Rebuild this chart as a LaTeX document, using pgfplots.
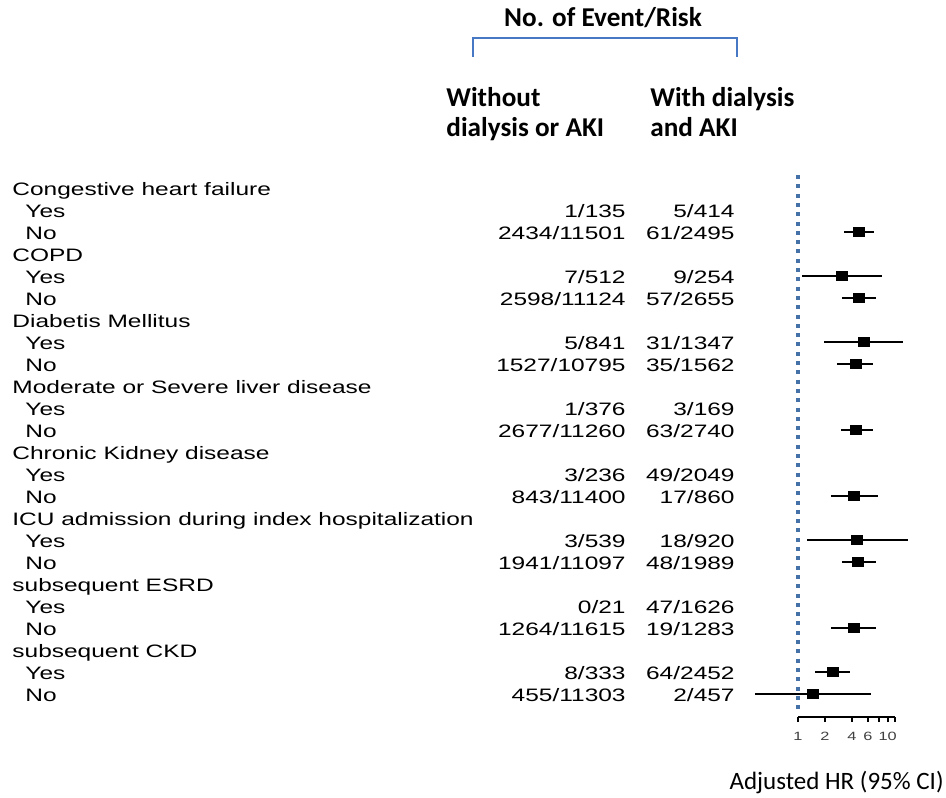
\documentclass[border=0pt]{standalone}
\usepackage{pgfplots}
\pgfplotsset{compat=1.18}
\usepackage{fontspec}
\setmainfont{Liberation Sans}[FakeStretch=1.36]
\newfontfamily\hdrfont{Carlito}
\definecolor{dotblue}{RGB}{68,114,168}
\definecolor{brblue}{RGB}{70,120,196}
\begin{document}
\begin{tikzpicture}
\path (0,0) rectangle (473pt,-398.5pt);
\begin{scope}[x=0.5pt,y=-0.5pt,every node/.style={inner sep=0pt,font=\fontsize{9}{10}\selectfont}]
% headers
\node[anchor=base,font=\hdrfont\bfseries\fontsize{13.6}{15}\selectfont] at (603,27) {No. of Event/Risk};
\draw[brblue,line width=1pt] (473,57) -- (473,38) -- (737,38) -- (737,57);
\node[anchor=base west,font=\hdrfont\bfseries\fontsize{13.6}{15}\selectfont] at (446,106) {Without};
\node[anchor=base west,font=\hdrfont\bfseries\fontsize{13.6}{15}\selectfont] at (446,136) {dialysis or AKI};
\node[anchor=base west,font=\hdrfont\bfseries\fontsize{13.6}{15}\selectfont] at (650,106) {With dialysis};
\node[anchor=base west,font=\hdrfont\bfseries\fontsize{13.6}{15}\selectfont] at (650,136) {and AKI};
% row labels
\foreach \i/\t in {0/Congestive heart failure,3/COPD,6/Diabetis Mellitus,9/Moderate or Severe liver disease,12/Chronic Kidney disease,15/ICU admission during index hospitalization,18/subsequent ESRD,21/subsequent CKD}
  \node[anchor=base west] at (12,{188+22*\i+7.5}) {\t};
\foreach \i in {1,4,7,10,13,16,19,22}
  \node[anchor=base west] at (25,{188+22*\i+7}) {Yes};
\foreach \i in {2,5,8,11,14,17,20,23}
  \node[anchor=base west] at (25,{188+22*\i+7}) {No};
% event/risk columns
\foreach \i/\a/\b in {1/1\slash 135/5\slash 414,2/2434\slash 11501/61\slash 2495,
  4/7\slash 512/9\slash 254,5/2598\slash 11124/57\slash 2655,
  7/5\slash 841/31\slash 1347,8/1527\slash 10795/35\slash 1562,
  10/1\slash 376/3\slash 169,11/2677\slash 11260/63\slash 2740,
  13/3\slash 236/49\slash 2049,14/843\slash 11400/17\slash 860,
  16/3\slash 539/18\slash 920,17/1941\slash 11097/48\slash 1989,
  19/0\slash 21/47\slash 1626,20/1264\slash 11615/19\slash 1283,
  22/8\slash 333/64\slash 2452,23/455\slash 11303/2\slash 457}{
  \node[anchor=base east] at (626,{188+22*\i+7}) {\a};
  \node[anchor=base east] at (735,{188+22*\i+7}) {\b};
}
\node[anchor=base east,font=\hdrfont\fontsize{12.5}{14}\selectfont] at (944,789) {Adjusted HR (95\% CI)};
\end{scope}
\begin{axis}[
  at={(399pt,-358.5pt)}, anchor=south west,
  scale only axis, width=48.4pt, height=273.5pt,
  xmode=log, xmin=1, xmax=12, ymin=-24.05, ymax=0.82,
  axis x line*=bottom, axis y line=none,
  xtick={1,2,4,6,8,10,12}, xticklabels={1,2,4,6,,10,},
  minor xtick={},
  tick align=outside, major tick length=2.6pt,
  tick style={black, line width=0.8pt},
  x axis line style={line width=0.8pt},
  xticklabel style={font=\fontsize{6}{7}\selectfont, text=black!75, yshift=-4pt, inner sep=1pt},
  clip=false,
]
\addplot[dotblue, line width=2pt, dash pattern=on 2pt off 2.65pt] coordinates {(1,0.59) (1,-23.8)};
\addplot[black, line width=0.65pt, unbounded coords=jump] coordinates {
 (3.26,-2) (7.04,-2) (nan,nan)
 (1.11,-4) (8.64,-4) (nan,nan)
 (3.09,-5) (7.40,-5) (nan,nan)
 (1.95,-7) (14.8,-7) (nan,nan)
 (2.72,-8) (6.85,-8) (nan,nan)
 (3.02,-11) (6.85,-11) (nan,nan)
 (2.33,-14) (7.79,-14) (nan,nan)
 (1.26,-16) (16.8,-16) (nan,nan)
 (3.09,-17) (7.40,-17) (nan,nan)
 (2.33,-20) (7.40,-20) (nan,nan)
 (1.55,-22) (3.80,-22) (nan,nan)
 (0.33,-23) (6.51,-23)
};
\addplot[only marks, mark=square*, mark size=2.1pt, mark options={black, xscale=1.25}] coordinates {
 (4.79,-2) (3.09,-4) (4.79,-5) (5.44,-7) (4.43,-8) (4.43,-11) (4.21,-14)
 (4.55,-16) (4.66,-17) (4.21,-20) (2.46,-22) (1.47,-23)
};
\end{axis}
\end{tikzpicture}
\end{document}
